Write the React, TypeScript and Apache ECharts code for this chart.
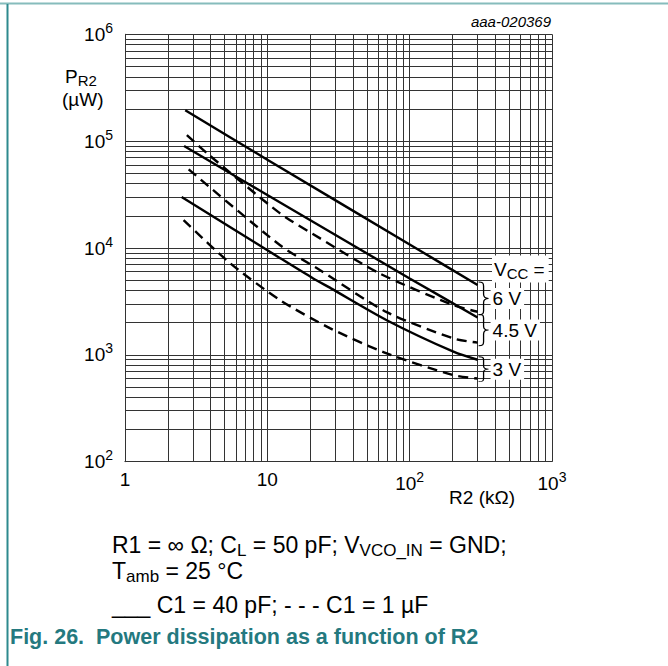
import React, { useEffect, useRef } from "react";
import * as echarts from "echarts";

// grid line values (decades with minor multiples)
const xGridValues = [1, 2, 3, 4, 5, 6, 7, 8, 9, 10, 20, 30, 40, 50, 60, 70, 80, 90, 100, 200, 300, 400, 500, 600, 700, 800, 900, 1000];
const yGridValues = [
  100, 200, 300, 400, 500, 600, 700, 800, 900,
  1000, 2000, 3000, 4000, 5000, 6000, 7000, 8000, 9000,
  10000, 20000, 30000, 40000, 50000, 60000, 70000, 80000, 90000,
  100000, 200000, 300000, 400000, 500000, 600000, 700000, 800000, 900000, 1000000,
];
const xTickLabels: Record<number, string> = { 0: "1", 1: "10", 2: "10{sup|2}", 3: "10{sup|3}" };
const yTickLabels: Record<number, string> = { 2: "10{sup|2}", 3: "10{sup|3}", 4: "10{sup|4}", 5: "10{sup|5}", 6: "10{sup|6}" };

// R2 (kΩ), P_R2 (µW)
const solid6V = [[2.65, 195000], [10, 67000], [100, 10800], [300, 4500]];
const solid45V = [[2.6, 90000], [10, 31300], [100, 5190], [300, 2240]];
const solid3V = [[2.5, 30000], [12, 8200], [21, 5190], [28, 4190], [69, 2110], [203, 1070], [300, 900]];
const dashed6V = [[2.72, 114000], [3.77, 77000], [12.3, 21100], [23.5, 12300], [62, 5750], [203, 2920], [300, 2530]];
const dashed45V = [[2.8, 54500], [12.3, 10600], [23.5, 6200], [69, 2510], [203, 1425], [300, 1300]];
const dashed3V = [[2.58, 18200], [5.5, 7180], [12.3, 3250], [27.7, 1770], [69, 1030], [203, 646], [300, 600]];

const vccTitle = "V{sub|CC} =";
const vccLabels = ["6 V", "4.5 V", "3 V"];

const FONT = "'Liberation Sans', Arial, sans-serif";

echarts.graphic.registerShape(
  "brace",
  echarts.graphic.extendPath(
    "M0,0 C4,0 5,1 5,5 L5,15 C5,18 6,20 10,20 C6,20 5,22 5,25 L5,35 C5,39 4,40 0,40",
    {}
  )
);

export default function App() {
  const ref = useRef<HTMLDivElement>(null);
  useEffect(() => {
    if (!ref.current) return;
    const chart = echarts.init(ref.current, undefined, { renderer: "svg" });
    const lineSeries = (data: number[][], dashed: boolean) => ({
      type: "line",
      data,
      showSymbol: false,
      symbol: "none",
      smooth: 0.25,
      silent: true,
      z: 5,
      lineStyle: { color: "#000", width: 2.4, type: dashed ? [10, 6] : "solid" },
    });
    chart.setOption({
      animation: false,
      grid: { left: 125, right: 116, top: 34.3, bottom: 204.3, containLabel: false },
      xAxis: {
        type: "log",
        logBase: 10,
        min: 1,
        max: 1000,
        splitNumber: 3,
        axisLine: { show: true, lineStyle: { color: "#000", width: 1 } },
        axisTick: { show: false },
        splitLine: { show: false },
        axisLabel: {
          margin: 8,
          color: "#000",
          fontFamily: FONT,
          fontSize: 19,
          showMinLabel: true,
          showMaxLabel: true,
          formatter: (v: number) => xTickLabels[Math.round(Math.log10(v))] ?? "",
          rich: { sup: { fontSize: 14, fontFamily: FONT, color: "#000", padding: [0, 0, 13, 0] } },
        },
      },
      yAxis: {
        type: "log",
        logBase: 10,
        min: 100,
        max: 1000000,
        splitNumber: 4,
        axisLine: { show: true, lineStyle: { color: "#000", width: 1 } },
        axisTick: { show: false },
        splitLine: { show: false },
        axisLabel: {
          margin: 12,
          color: "#000",
          fontFamily: FONT,
          fontSize: 19,
          showMinLabel: true,
          showMaxLabel: true,
          formatter: (v: number) => yTickLabels[Math.round(Math.log10(v))] ?? "",
          rich: { sup: { fontSize: 14, fontFamily: FONT, color: "#000", padding: [0, 0, 13, 0] } },
        },
      },
      series: [
        {
          type: "line",
          data: [[1, 100]],
          symbol: "none",
          showSymbol: false,
          silent: true,
          z: 1,
          lineStyle: { width: 0 },
          markLine: {
            silent: true,
            symbol: ["none", "none"],
            label: { show: false },
            emphasis: { disabled: true },
            lineStyle: { color: "#333", width: 1, type: "solid" },
            data: [
              ...xGridValues.map((v) => ({ xAxis: v })),
              ...yGridValues.map((v) => ({ yAxis: v })),
            ],
          },
        },
        lineSeries(solid6V, false),
        lineSeries(solid45V, false),
        lineSeries(solid3V, false),
        lineSeries(dashed6V, true),
        lineSeries(dashed45V, true),
        lineSeries(dashed3V, true),
      ],
    });

    const px = (p: number[]) => chart.convertToPixel({ gridIndex: 0 }, p) as number[];
    const pairs = [
      [solid6V[solid6V.length - 1], dashed6V[dashed6V.length - 1]],
      [solid45V[solid45V.length - 1], dashed45V[dashed45V.length - 1]],
      [solid3V[solid3V.length - 1], dashed3V[dashed3V.length - 1]],
    ];
    const braces: any[] = [];
    pairs.forEach((pr, i) => {
      const a = px(pr[0]);
      const b = px(pr[1]);
      const top = Math.min(a[1], b[1]) - 3;
      const bot = Math.max(a[1], b[1]) + 3;
      braces.push({
        type: "brace",
        x: a[0] + 1,
        y: top,
        scaleX: 1,
        scaleY: (bot - top) / 40,
        z: 20,
        style: { stroke: "#000", fill: null, lineWidth: 1.3, strokeNoScale: true },
      });
      braces.push({
        type: "text",
        x: a[0] + 13,
        y: (top + bot) / 2,
        z: 21,
        style: {
          text: vccLabels[i],
          fontFamily: FONT,
          fontSize: 19,
          fill: "#000",
          verticalAlign: "middle",
          align: "left",
          backgroundColor: "#fff",
          padding: [1, 3, 1, 2],
        },
      });
    });

    const textStyle = { fontFamily: FONT, fill: "#000" };
    const subRich = (fs: number, pad: number) => ({ sub: { fontSize: fs, fontFamily: FONT, fill: "#000", padding: [pad, 0, 0, 0] } });
    chart.setOption({
      graphic: [
        { type: "rect", shape: { x: 0, y: 2.5, width: 668, height: 2 }, style: { fill: "#86bcbc" }, z: 30 },
        { type: "rect", shape: { x: 6.5, y: 4, width: 2, height: 662 }, style: { fill: "#2e8a8e" }, z: 30 },
        ...braces,
        {
          type: "text",
          x: 492,
          y: 269,
          z: 21,
          style: {
            text: vccTitle,
            ...textStyle,
            fontSize: 19,
            verticalAlign: "middle",
            backgroundColor: "#fff",
            padding: [2, 4, 2, 2],
            rich: subRich(15, 8),
          },
        },
        {
          type: "text",
          x: 551,
          y: 21,
          style: { text: "aaa-020369", ...textStyle, fontSize: 15, fontStyle: "italic", align: "right", verticalAlign: "middle" },
        },
        {
          type: "text",
          x: 515,
          y: 497,
          style: { text: "R2 (kΩ)", ...textStyle, fontSize: 19, align: "right", verticalAlign: "middle" },
        },
        {
          type: "text",
          x: 65,
          y: 76,
          style: {
            text: "P{sub|R2}",
            ...textStyle,
            fontSize: 19,
            align: "left",
            verticalAlign: "middle",
            rich: subRich(15, 8),
          },
        },
        {
          type: "text",
          x: 62,
          y: 99,
          style: { text: "(µW)", ...textStyle, fontSize: 19, align: "left", verticalAlign: "middle" },
        },
        {
          type: "text",
          x: 112,
          y: 545,
          style: {
            text: "R1 = ∞ Ω; C{sub|L} = 50 pF; V{sub|VCO_IN} = GND;",
            ...textStyle,
            fontSize: 23,
            verticalAlign: "middle",
            rich: subRich(17, 11),
          },
        },
        {
          type: "text",
          x: 112,
          y: 571,
          style: {
            text: "T{sub|amb} = 25 °C",
            ...textStyle,
            fontSize: 23,
            verticalAlign: "middle",
            rich: subRich(17, 11),
          },
        },
        {
          type: "text",
          x: 112,
          y: 605,
          style: { text: "___ C1 = 40 pF; - - - C1 = 1 µF", ...textStyle, fontSize: 23, verticalAlign: "middle" },
        },
        {
          type: "text",
          x: 10,
          y: 637,
          style: {
            text: "Fig. 26.\u00a0\u00a0Power dissipation as a function of R2",
            fontFamily: FONT,
            fontSize: 21.5,
            fontWeight: "bold",
            fill: "#24797f",
            verticalAlign: "middle",
          },
        },
      ],
    });
    return () => chart.dispose();
  }, []);
  return <div ref={ref} style={{ position: "fixed", left: 0, top: 0, width: 668, height: 666, background: "#fff" }} />;
}
